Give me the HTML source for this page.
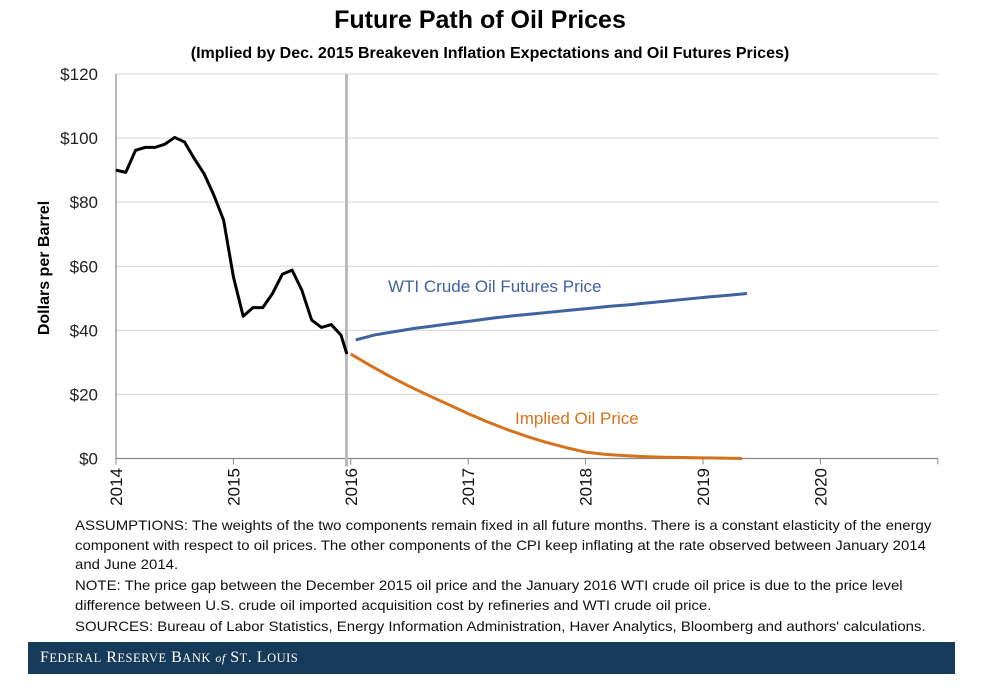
<!DOCTYPE html>
<html><head><meta charset="utf-8"><style>
body{margin:0;background:#fff;width:984px;height:690px;overflow:hidden;font-family:"Liberation Sans",sans-serif;}
.note{position:absolute;left:75px;font-size:13.6px;color:#111;white-space:nowrap;transform-origin:0 0;transform:scaleX(1.10);}
</style></head><body>
<div style="position:absolute;left:0;width:960px;top:6px;text-align:center;font-size:25px;font-weight:bold;">Future Path of Oil Prices</div>
<div style="position:absolute;left:0;width:980px;top:45px;text-align:center;font-size:16px;font-weight:bold;">(Implied by Dec. 2015 Breakeven Inflation Expectations and Oil Futures Prices)</div>
<svg id="chart" width="984" height="520" style="position:absolute;left:0;top:0"></svg>
<div class="note" style="top:518px">ASSUMPTIONS: The weights of the two components remain fixed in all future months. There is a constant elasticity of the energy</div>
<div class="note" style="top:538px">component with respect to oil prices. The other components of the CPI keep inflating at the rate observed between January 2014</div>
<div class="note" style="top:557px">and June 2014.</div>
<div class="note" style="top:578px">NOTE: The price gap between the December 2015 oil price and the January 2016 WTI crude oil price is due to the price level</div>
<div class="note" style="top:598px">difference between U.S. crude oil imported acquisition cost by refineries and WTI crude oil price.</div>
<div class="note" style="top:619px">SOURCES: Bureau of Labor Statistics, Energy Information Administration, Haver Analytics, Bloomberg and authors' calculations.</div>
<div style="position:absolute;left:28px;top:642px;width:927px;height:32px;background:#163a5a;color:#fff;font-family:'Liberation Serif',serif;font-size:16px;line-height:32px;padding-left:12px;box-sizing:border-box;letter-spacing:0.5px;">F<span style="font-size:12.5px">EDERAL</span> R<span style="font-size:12.5px">ESERVE</span> B<span style="font-size:12.5px">ANK</span> <i style="font-size:12px">of</i> S<span style="font-size:12.5px">T</span>. L<span style="font-size:12.5px">OUIS</span></div>
<script>
const yTicks=[0,20,40,60,80,100,120];
const yearLabels=["2014","2015","2016","2017","2018","2019","2020"];
const histMonths=[0,1,2,3,4,5,6,7,8,9,10,11,12,13,14,15,16,17,18,19,20,21,22,23,23.6];
const histPrice=[90,89.3,96.2,97.1,97.1,98.1,100.2,98.8,93.6,88.9,82.2,74.4,56.7,44.4,47.1,47.1,51.5,57.5,58.8,52.5,43.2,40.9,41.8,38.5,32.6];
const futMonths=[24,26,28,30,32,34,36,38,40,42,44,46,48,50,52,54,56,58,60,62,64];
const futuresPrice=[37.0,38.6,39.6,40.6,41.4,42.2,43.0,43.8,44.5,45.1,45.7,46.3,46.9,47.5,48.0,48.6,49.2,49.8,50.4,50.9,51.5];
const impliedPrice=[32.6,29.0,25.6,22.5,19.6,16.8,14.0,11.4,9.0,6.9,5.0,3.4,2.0,1.3,0.9,0.6,0.4,0.3,0.2,0.1,0.0];
const X0=116,X1=938,Y0=458.5,YTOP=74;
const x=m=>X0+m*(117.4/12);
const y=v=>Y0-v*(Y0-YTOP)/120;
const svg=document.getElementById('chart');
const NS='http://www.w3.org/2000/svg';
function mk(t,a){const e=document.createElementNS(NS,t);for(const k in a)e.setAttribute(k,a[k]);svg.appendChild(e);return e;}
yTicks.forEach(v=>{
 if(v>0){const g=mk('line',{x1:X0,x2:X1,y1:y(v),y2:y(v),stroke:'#d6d6d6','stroke-width':1});
 
 }
 const t=mk('text',{x:98,y:y(v)+6,'text-anchor':'end','font-size':17,fill:'#222'});t.textContent='$'+v;
 
 
});
const ax=mk('line',{x1:X0,x2:X1,y1:Y0,y2:Y0,stroke:'#888','stroke-width':1.2});


const ay=mk('line',{x1:X0,x2:X0,y1:YTOP,y2:Y0,stroke:'#888','stroke-width':1.2});


for(let i=0;i<=7;i++){const tk=mk('line',{x1:x(i*12),x2:x(i*12),y1:Y0,y2:Y0+6,stroke:'#888'});
 
 }
yearLabels.forEach((l,i)=>{const px=x(i*12)+6;const t=mk('text',{x:px,y:468,'font-size':17,fill:'#111','text-anchor':'end',transform:`rotate(-90 ${px} 468)`});t.textContent=l;
 
 });
const yt=mk('text',{x:49,y:268,'font-size':16,'font-weight':'bold','text-anchor':'middle',transform:'rotate(-90 49 268)'});yt.textContent='Dollars per Barrel';


const vl=mk('line',{x1:346.5,x2:346.5,y1:YTOP,y2:Y0+8,stroke:'#bbb','stroke-width':3});


function line(ms,vs,c,n){const p=mk('polyline',{points:ms.map((m,i)=>x(m)+','+y(vs[i])).join(' '),fill:'none',stroke:c,'stroke-width':3,'stroke-linejoin':'round'});
 
 }
line(futMonths,impliedPrice,'#d6721d','implied-oil-price-line');
line(futMonths.map(m=>m+0.5),futuresPrice,'#3f62a0','wti-futures-line');
line(histMonths,histPrice,'#000','historical-oil-price-line');
const l1=mk('text',{x:388,y:292,'font-size':17,fill:'#3f62a0'});l1.textContent='WTI Crude Oil Futures Price';


const l2=mk('text',{x:515,y:424,'font-size':17,fill:'#d6721d'});l2.textContent='Implied Oil Price';


</script>
</body></html>
